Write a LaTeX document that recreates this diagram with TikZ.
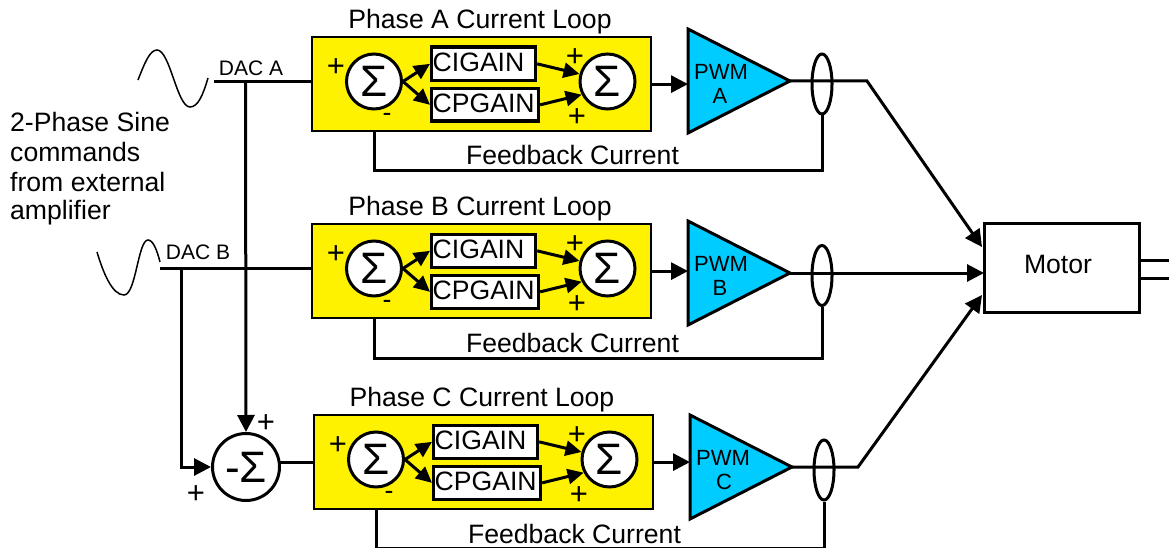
\documentclass[tikz,border=0pt]{standalone}
\usepackage{fontspec}
\setmainfont{Liberation Sans}
\usetikzlibrary{arrows.meta,shapes.geometric,calc}
\newcommand{\fsz}[1]{\fontsize{#1}{#1}\selectfont}
\tikzset{
  wire/.style={line width=3pt,line cap=butt,line join=miter},
  arrowwire/.style={wire,-{Triangle[length=17pt,width=17pt]}},
  smallarrow/.style={wire,-{Triangle[length=16pt,width=15pt]}},
  wave/.style={line width=1.5pt},
  sumnode/.style={circle,draw,line width=3pt,fill=white,minimum size=55pt,inner sep=0pt,font=\fsz{44}},
  gainbox/.style={rectangle,draw,line width=3.2pt,fill=white,inner sep=0pt,anchor=north west},
  gaintext/.style={inner sep=0pt,font=\fsz{26.6},anchor=base west},
  loopbox/.style={rectangle,draw,line width=2.2pt,fill=yellow,inner sep=0pt,anchor=north west,minimum width=339pt,minimum height=94pt},
  lab/.style={inner sep=0pt,font=\fsz{26.6}},
  baselab/.style={lab,anchor=base},
  plussign/.style={inner sep=0pt,font=\fsz{31}},
  smalllab/.style={inner sep=0pt,font=\fsz{22}},
  dac/.style={inner sep=0pt,font=\fsz{21}},
  tap/.style={ellipse,draw,line width=3pt,minimum width=20pt,minimum height=60pt,inner sep=0pt},
  pwmshape/.style={line width=3pt,fill=pwmblue,line join=miter},
}
\definecolor{pwmblue}{RGB}{0,204,255}
% #1 letter, #2 x shift, #3 y shift, #4 triangle y, #5 tap y, #6 feedback y, #7 PWM letter x
\newcommand{\phaseloop}[7]{
  \begin{scope}[shift={(#2,#3)}]
    \node[loopbox] (y#1) at (311,36) {};
    \node[baselab] (title#1) at (480,28.5) {Phase #1 Current Loop};
    \node[sumnode] (s#1) at (374,81.5) {\char"03A3};
    \node[sumnode] (t#1) at (607.5,81.5) {\char"03A3};
    \node[gainbox,minimum width=104pt,minimum height=33.5pt] (ci#1) at (430,45.5) {};
    \node[gainbox,minimum width=107pt,minimum height=32.5pt] (cp#1) at (430,87) {};
    \node[gaintext] (cit#1) at (432.5,71.5) {CIGAIN};
    \node[gaintext] (cpt#1) at (432.5,112.5) {CPGAIN};
    \draw[smallarrow] (s#1.east) -- (ci#1.west);
    \draw[smallarrow] (s#1.east) -- (cp#1.west);
    \draw[smallarrow] (ci#1.east) -- (t#1.165);
    \draw[smallarrow] (cp#1.east) -- (t#1.207);
    \node[plussign] (pa#1) at (336,68) {+};
    \node[lab] (mi#1) at (387,117) {-};
    \node[plussign] (pb#1) at (575,58) {+};
    \node[plussign] (pc#1) at (577,118) {+};
    \node[baselab] (fl#1) at (572.5,165) {Feedback Current};
    \coordinate (lead#1) at (374,81.5);
  \end{scope}
  \begin{scope}[xshift=#2pt]
    \coordinate (tt#1) at (688,{#4-52});
    \coordinate (tb#1) at (688,{#4+52});
    \coordinate (tip#1) at (790,#4);
    \draw[pwmshape] (tt#1) -- (tip#1) -- (tb#1) -- cycle;
    \node[smalllab] (pw#1) at (721,{#4-9}) {PWM};
    \node[smalllab] (pl#1) at (#7,{#4+15}) {#1};
    \node[tap] (e#1) at (822,#5) {};
    \coordinate (fb#1) at (822,#6);
    \draw[arrowwire] (y#1.east) -- (y#1.east -| tt#1);
    \draw[wire] (y#1.south -| lead#1) |- (fb#1) -- (e#1.south);
  \end{scope}
}
\begin{document}
\begin{tikzpicture}[x=1pt,y=-1pt]
\useasboundingbox (0,0) rectangle (1169,548);

\phaseloop{A}{0}{0}{81}{84}{171}{720}
\phaseloop{B}{0}{187}{273}{275.5}{358}{720}
\phaseloop{C}{2}{378}{467}{470}{548.5}{722}

% left text
\node[lab,anchor=base west] (cmd1) at (10,132) {2-Phase Sine};
\node[lab,anchor=base west] (cmd2) at (10,162) {commands};
\node[lab,anchor=base west] (cmd3) at (10,191) {from external};
\node[lab,anchor=base west] (cmd4) at (10,219) {amplifier};

% command waves
\draw[wave] (138,80) .. controls (145,62) and (150,50) .. (157,50) .. controls (170,50) and (177,107) .. (190,107) .. controls (198,107) and (203,95) .. (208,78);
\draw[wave] (97,252) .. controls (103,272) and (112,295) .. (124,295) .. controls (136,295) and (138,240) .. (148,240) .. controls (153,240) and (157,250) .. (160,262);

\node[dac] (dacA) at (251,68) {DAC A};
\node[dac] (dacB) at (198,252) {DAC B};
\coordinate (inA) at (214,81.5);
\coordinate (inB) at (160,268.5);
\draw[wire] (inA) -- (inA -| yA.west);
\draw[wire] (inB) -- (inB -| yB.west);

% phase C summing junction
\node[sumnode,minimum size=67pt] (sumC) at (246,467) {-\char"03A3};
\coordinate (tapA) at (245.5,81.5);
\coordinate (tapB) at (181,268.5);
\draw[arrowwire] (tapA) -- (sumC.north);
\draw[arrowwire] (tapB) |- (sumC.west);
\draw[wire] (sumC.east |- yC.west) ++(-1,0) -- (yC.west);
\node[plussign] (pD) at (266,424) {+};
\node[plussign] (pE) at (196,495) {+};

% motor
\node[rectangle,draw,line width=3pt,inner sep=0pt,minimum width=155pt,minimum height=89pt] (motor) at (1061.5,267.5) {};
\node[lab] (motorl) at (1058,264) {Motor};
\coordinate (out1) at (1169,260);
\coordinate (out2) at (1169,278);
\draw[wire] (motor.east |- out1) -- (out1);
\draw[wire] (motor.east |- out2) -- (out2);

\coordinate (cornA) at (867,81);
\coordinate (cornC) at (858,467);
\coordinate (endA) at (982,247);
\coordinate (endB) at (984,273);
\coordinate (endC) at (982,295);
\draw[arrowwire] (tipA) -- (cornA) -- (endA);
\draw[arrowwire] (tipB) -- (endB);
\draw[arrowwire] (tipC) -- (cornC) -- (endC);
\end{tikzpicture}
\end{document}
